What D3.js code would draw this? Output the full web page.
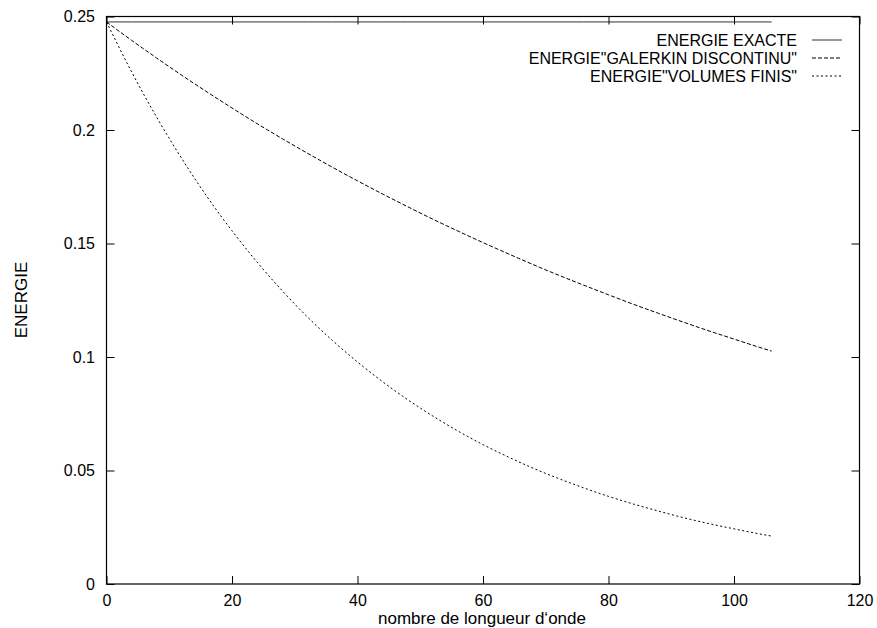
<!DOCTYPE html>
<html><head><meta charset="utf-8">
<script src="https://cdn.jsdelivr.net/npm/d3@7"></script>
<style>body{margin:0;background:#fff}svg{display:block}text{font-family:"Liberation Sans",Arial,sans-serif;font-size:17px;fill:#000}.tick text{font-size:16px}.leg{font-size:16px}</style>
</head><body><svg id="c" width="877" height="628"></svg>
<script>
const xs = [0,4,8,12,16,20,24,28,32,36,40,44,48,52,56,60,64,68,72,76,80,84,88,92,96,100,104,106];
const exacte = xs.map(() => 0.2476);
const galerkin = [0.2476,0.2395,0.2317,0.2241,0.2168,0.2097,0.2028,0.1962,0.1898,0.1836,0.1776,0.1718,0.1662,0.1607,0.1555,0.1504,0.1455,0.1407,0.1361,0.1317,0.1274,0.1232,0.1192,0.1153,0.1115,0.1079,0.1043,0.1026];
const volumes = [0.2476,0.2256,0.2056,0.1874,0.1707,0.1556,0.1418,0.1292,0.1177,0.1073,0.0978,0.0891,0.0812,0.0740,0.0674,0.0614,0.0560,0.0510,0.0465,0.0424,0.0386,0.0352,0.0321,0.0292,0.0266,0.0243,0.0221,0.0211];
const xTicks = [0,20,40,60,80,100,120];
const yTicks = [0,0.05,0.1,0.15,0.2,0.25];
const yTickLabels = ["0","0.05","0.1","0.15","0.2","0.25"];
const seriesNames = ["ENERGIE EXACTE","ENERGIE\"GALERKIN DISCONTINU\"","ENERGIE\"VOLUMES FINIS\""];

const svg = d3.select("#c");
const L=106.5, R=859.5, T=16.5, B=584;
const x = d3.scaleLinear().domain([0,120]).range([L,R]);
const y = d3.scaleLinear().domain([0,0.25]).range([B,T]);

const series = [
  {name:seriesNames[0], vals:exacte, dash:null, color:"#333"},
  {name:seriesNames[1], vals:galerkin, dash:"4,2", color:"#000"},
  {name:seriesNames[2], vals:volumes, dash:"2,2.5", color:"#000"}
];
const line = d3.line().x(d=>x(d[0])).y(d=>y(d[1])).curve(d3.curveMonotoneX);
series.forEach(s=>{
  svg.append("path").datum(xs.map((v,i)=>[v,s.vals[i]]))
    .attr("d",line).attr("fill","none").attr("stroke",s.color)
    .attr("stroke-width",1).attr("stroke-dasharray",s.dash);
});

// axes with inward ticks
const tk=8;
svg.append("g").attr("transform",`translate(0,${B})`)
  .call(d3.axisBottom(x).tickValues(xTicks).tickSizeInner(-tk).tickSizeOuter(0).tickPadding(11).tickFormat(d3.format("d")))
  .call(g=>{g.select(".domain").remove();});
svg.append("g").attr("transform",`translate(0,${T})`)
  .call(d3.axisTop(x).tickValues(xTicks).tickSizeInner(-tk).tickSizeOuter(0).tickFormat(""))
  .call(g=>g.select(".domain").remove());
svg.append("g").attr("transform",`translate(${L},0)`)
  .call(d3.axisLeft(y).tickValues(yTicks).tickSizeInner(-tk).tickSizeOuter(0).tickPadding(11.5).tickFormat((d,i)=>yTickLabels[i]))
  .call(g=>{g.select(".domain").remove();});
svg.append("g").attr("transform",`translate(${R},0)`)
  .call(d3.axisRight(y).tickValues(yTicks).tickSizeInner(-tk).tickSizeOuter(0).tickFormat(""))
  .call(g=>g.select(".domain").remove());
svg.selectAll(".tick line").attr("stroke","#000");
svg.selectAll("g").attr("font-family",null).attr("font-size",null);

svg.append("rect").attr("x",L).attr("y",T).attr("width",R-L).attr("height",B-T)
  .attr("fill","none").attr("stroke","#000").attr("stroke-width",1.2);

// legend
series.forEach((s,i)=>{
  const yy = 40 + i*18;
  svg.append("text").attr("class","leg").attr("x",797).attr("y",yy+6).attr("text-anchor","end").text(s.name);
  svg.append("line").attr("x1",812).attr("x2",842).attr("y1",yy).attr("y2",yy)
    .attr("stroke",s.color).attr("stroke-width",1).attr("stroke-dasharray",s.dash);
});

svg.append("text").attr("x",482).attr("y",624).attr("text-anchor","middle").text("nombre de longueur d\u2018onde");
svg.append("text").attr("transform","translate(27,300) rotate(-90)").attr("text-anchor","middle").text("ENERGIE");
</script></body></html>
